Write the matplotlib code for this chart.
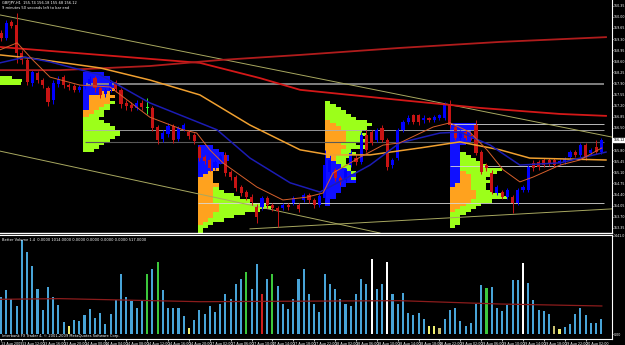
import numpy as np
import matplotlib
matplotlib.use("Agg")
import matplotlib.pyplot as plt

# GBPJPY H1 bars, 13 Aug 2009 08:00 .. 20 Aug 2009 03:00
opens = [159.49, 159.33, 159.84, 159.74, 158.86, 158.64, 157.92, 158.23, 158.01, 157.76,
         157.38, 157.88, 158.10, 157.85, 157.82, 157.70, 157.79, 157.88, 158.07, 157.76,
         157.57, 157.70, 157.95, 157.70, 157.29, 157.22, 157.13, 157.29, 157.13, 157.13,
         156.53, 156.15, 156.31, 156.56, 156.15, 156.47, 156.37, 156.28, 155.90, 155.58,
         155.49, 155.24, 155.43, 155.65, 155.11, 154.95, 154.64, 154.48, 154.32, 154.01,
         154.01, 154.29, 154.07, 153.98, 153.98, 154.07, 154.14, 154.07, 154.23, 154.39,
         154.23, 154.07, 154.29, 155.11, 155.18, 154.92, 154.86, 155.33, 155.55, 155.43,
         156.28, 156.37, 156.12, 156.50, 156.12, 155.33, 155.55, 156.44, 156.69, 156.91,
         156.91, 156.75, 156.81, 156.75, 156.81, 156.81, 157.22, 156.53, 156.18, 156.37,
         156.28, 156.59, 155.74, 155.33, 155.08, 154.45, 154.48, 154.32, 154.32, 154.14,
         154.55, 154.55, 155.40, 155.43, 155.49, 155.49, 155.49, 155.40, 155.43, 155.58,
         155.74, 155.65, 155.96, 155.71, 155.90, 155.74]
closes = [159.33, 159.81, 159.71, 158.86, 158.64, 157.95, 158.26, 158.01, 157.85, 157.32,
          157.92, 158.04, 157.85, 157.79, 157.70, 157.79, 157.88, 158.04, 157.76, 157.54,
          157.70, 157.92, 157.73, 157.25, 157.19, 157.13, 157.29, 157.16, 157.13, 156.50,
          156.12, 156.34, 156.56, 156.12, 156.50, 156.59, 156.25, 156.09, 155.55, 155.46,
          155.24, 155.43, 155.62, 155.08, 154.95, 154.61, 154.45, 154.32, 154.17, 153.69,
          154.29, 154.07, 153.98, 153.88, 154.07, 154.01, 154.29, 153.95, 154.39, 154.23,
          154.07, 154.36, 155.33, 155.49, 154.92, 154.80, 155.18, 155.71, 155.43, 156.28,
          155.81, 156.03, 156.44, 156.12, 155.27, 155.49, 156.44, 156.69, 156.81, 156.69,
          156.69, 156.81, 156.75, 156.84, 156.91, 157.22, 156.59, 156.18, 156.37, 156.18,
          156.21, 155.71, 155.11, 155.24, 154.48, 154.64, 154.32, 154.55, 154.14, 154.55,
          154.64, 155.27, 155.24, 155.27, 155.33, 155.36, 155.33, 155.46, 155.52, 155.74,
          155.65, 155.96, 155.58, 155.81, 155.74, 156.12]
highs = [159.59, 159.90, 159.90, 160.12, 158.96, 158.70, 158.32, 158.29, 158.07, 157.82,
         158.01, 158.14, 158.17, 157.92, 157.88, 157.85, 157.95, 158.14, 158.14, 157.82,
         157.76, 158.01, 158.01, 157.76, 157.38, 157.32, 157.38, 157.38, 157.44, 157.19,
         156.59, 156.44, 156.66, 156.62, 156.56, 156.66, 156.44, 156.34, 155.96, 155.65,
         155.55, 155.49, 155.68, 155.74, 155.18, 155.02, 154.70, 154.55, 154.42, 154.10,
         154.36, 154.36, 154.14, 154.04, 154.14, 154.14, 154.36, 154.14, 154.45, 154.45,
         154.29, 154.42, 155.81, 155.65, 155.24, 154.99, 155.24, 155.81, 155.65, 156.37,
         156.44, 156.44, 156.50, 156.59, 156.18, 155.55, 156.50, 156.75, 156.91, 156.94,
         156.94, 156.91, 156.84, 156.91, 156.94, 157.32, 157.38, 156.59, 156.44, 156.44,
         156.34, 156.75, 155.81, 155.40, 155.18, 154.70, 154.55, 154.61, 154.39, 154.61,
         154.70, 155.33, 155.49, 155.49, 155.55, 155.55, 155.55, 155.52, 155.58, 155.81,
         155.81, 156.03, 156.03, 155.87, 156.12, 156.18]
lows = [159.24, 159.27, 159.65, 158.55, 158.51, 157.85, 157.82, 157.92, 157.76, 157.19,
        157.25, 157.79, 157.76, 157.70, 157.63, 157.63, 157.73, 157.82, 157.63, 157.44,
        157.47, 157.63, 157.63, 157.13, 157.07, 157.03, 157.07, 157.07, 156.94, 156.40,
        155.99, 156.06, 156.21, 156.03, 156.09, 156.40, 156.15, 155.99, 155.46, 155.36,
        155.14, 155.18, 155.36, 154.99, 154.86, 154.51, 154.36, 154.23, 154.07, 153.51,
        153.92, 153.98, 153.88, 153.38, 153.92, 153.92, 154.07, 153.85, 154.17, 154.14,
        153.98, 154.01, 154.23, 155.02, 154.83, 154.70, 154.80, 155.27, 155.33, 155.36,
        155.74, 155.96, 156.06, 156.06, 155.18, 155.24, 155.49, 156.37, 156.62, 156.62,
        156.59, 156.66, 156.69, 156.69, 156.75, 156.75, 156.50, 156.12, 156.12, 156.12,
        156.12, 155.65, 155.05, 155.14, 154.42, 154.39, 154.26, 154.26, 153.82, 154.07,
        154.48, 154.48, 155.14, 155.18, 155.27, 155.30, 155.27, 155.33, 155.36, 155.52,
        155.58, 155.58, 155.49, 155.65, 155.68, 155.68]

# tick volume (Better Volume 1.4)
volumes = [544, 647, 515, 412, 1382, 1205, 1000, 662, 353, 691,
           544, 426, 176, 118, 206, 191, 279, 368, 235, 309,
           147, 294, 500, 882, 544, 485, 382, 485, 882, 956,
           1058, 647, 382, 382, 382, 265, 88, 206, 353, 294,
           412, 323, 441, 588, 515, 735, 809, 911, 662, 1029,
           588, 809, 882, 706, 441, 368, 515, 809, 956, 588,
           441, 323, 882, 735, 662, 515, 441, 412, 588, 809,
           735, 1103, 662, 735, 1058, 588, 441, 603, 309, 279,
           309, 221, 118, 118, 88, 221, 353, 382, 191, 118,
           162, 441, 720, 676, 691, 382, 338, 426, 794, 794,
           1044, 750, 500, 353, 338, 294, 118, 74, 103, 147,
           294, 382, 279, 162, 162, 221]
vol_special = {13: "y", 28: "g", 30: "g", 36: "y", 47: "g", 50: "r", 52: "g",
               71: "w", 74: "w", 82: "y", 83: "y", 84: "k", 93: "g", 100: "w",
               106: "k", 107: "y"}
vol_ma_x = [-0.2, 11.3, 38.1, 76.4, 95.6, 115.1]
vol_ma = [510, 520, 475, 490, 441, 412]

# moving averages (bar index, price)
ma_slow1_x = [-0.2, 19.0, 38.1, 49.6, 57.3, 76.4, 91.8, 107.1, 115.9]
ma_slow1 = [159.05, 158.80, 158.55, 158.07, 157.70, 157.38, 157.13, 156.94, 156.88]
ma_slow2_x = [-0.2, 11.3, 28.5, 42.0, 57.3, 76.4, 95.6, 115.9]
ma_slow2 = [158.32, 158.32, 158.45, 158.64, 158.80, 159.02, 159.21, 159.36]
ma_orange_x = [-0.2, 5.6, 19.0, 28.5, 38.1, 47.7, 57.3, 63.0, 70.7, 80.3, 87.9, 95.6, 101.3, 115.9]
ma_orange = [158.80, 158.70, 158.39, 158.01, 157.54, 156.59, 155.81, 155.65, 155.65, 155.87,
             156.06, 155.81, 155.55, 155.49]
ma_blue_x = [-0.2, 4.6, 9.4, 19.0, 28.5, 41.4, 47.7, 55.4, 61.1, 65.5, 70.7, 76.4, 84.1, 87.9,
             93.7, 99.4, 107.1, 115.9]
ma_blue = [158.55, 158.73, 158.58, 158.17, 157.29, 156.44, 155.55, 154.77, 154.48, 154.86,
           155.33, 156.03, 156.34, 156.37, 155.96, 155.33, 155.40, 155.74]
ma_fast_x = [-0.2, 3.1, 6.1, 9.4, 15.1, 20.9, 28.5, 34.9, 37.5, 40.0, 42.5, 49.0, 54.0, 58.6,
             61.7, 63.6, 68.8, 73.2, 76.4, 82.8, 86.0, 89.8, 93.1, 96.2, 99.4, 101.9, 107.1,
             110.9, 115.1]
ma_fast = [158.96, 159.18, 158.64, 158.10, 157.85, 157.79, 156.84, 156.44, 156.34, 155.81,
           155.40, 154.64, 154.23, 154.32, 154.45, 155.08, 155.58, 155.96, 156.03, 156.53,
           156.66, 156.37, 155.81, 155.18, 154.80, 154.95, 155.33, 155.49, 155.87]

# trend lines and profile levels
trend_lines = [([-0.2, 117.1], [160.06, 156.21]),
               ([-0.2, 72.6], [155.77, 153.19]),
               ([47.7, 117.1], [153.32, 153.95])]
level_lines = [(157.88, 16.0, "#8a8a8a", 1.3),
               (156.62, 86.0, "#d8d8d8", 0.6),
               (156.44, 16.0, "#b0b0b0", 0.6),
               (156.06, 16.0, "#5a5a5a", 0.8),
               (155.30, 86.0, "#d8d8d8", 0.6),
               (154.14, 37.7, "#d8d8d8", 0.6)]

# market profiles: start bar, top price, row widths (bars) per session
profiles = [
    (-0.2, 158.15, [0, 0, 0], [0, 0, 0], [2.3, 4.2, 4.0]),
    (15.8, 158.25,
     [4, 5, 5, 6, 6, 5, 3, 1, 1, 1, 1, 1, 0, 0, 0, 0, 0, 0, 0, 0, 0, 0, 0, 0, 0],
     [0, 0, 0, 0, 0, 1, 2, 5, 4, 4, 3, 2, 2, 1, 0, 0, 0, 0, 0, 0, 0, 0, 0, 0, 0],
     [0, 0, 0, 0, 0, 0, 0, 0, 0, 1, 1, 2, 2, 3, 3, 4, 5, 6, 7, 7, 6, 5, 4, 3, 2]),
    (37.7, 155.95,
     [3, 4, 5, 6, 6, 5, 4, 3, 2, 1, 0, 0, 0, 0, 0, 0, 0, 0, 0, 0, 0, 0, 0, 0, 0, 0, 0, 0],
     [0, 0, 0, 0, 0, 0, 0, 1, 1, 2, 3, 3, 4, 3, 3, 3, 3, 3, 4, 4, 4, 3, 3, 2, 1, 0, 0, 0],
     [0, 0, 0, 0, 0, 0, 0, 0, 0, 0, 0, 0, 0, 1, 2, 4, 5, 7, 9, 10, 8, 6, 4, 3, 2, 2, 1, 1]),
    (62.1, 157.35,
     [0] * 18 + [1, 2, 3, 4, 5, 6, 5, 6, 4, 3, 3, 2, 2, 1, 1],
     [0, 0, 0, 0, 0, 0, 1, 2, 3, 4, 4, 4, 4, 3, 4, 3, 3, 2, 1] + [0] * 14,
     [1, 2, 3, 4, 5, 6, 7, 7, 5, 3, 4, 3, 4, 3, 4, 2, 3, 3, 2, 2, 2, 1, 1, 0, 1,
      0, 0, 0, 0, 0, 0, 0, 0]),
    (86.0, 156.65,
     [5, 5, 4, 4, 5, 4, 3, 2, 2, 2, 2, 2, 2, 2, 2, 2, 2, 2, 2, 1] + [0] * 13,
     [0] * 15 + [1, 2, 2, 2, 3, 4, 5, 5, 5, 4, 3, 2, 1] + [0] * 5,
     [0] * 9 + [1, 2, 3, 4, 5, 8, 6, 4, 3, 4, 3, 3, 3, 5, 6, 4, 3, 3, 3, 3, 2, 2, 2, 1]),
]

price_ticks = [153.35, 153.70, 154.05, 154.40, 154.75, 155.10, 155.45, 155.80, 156.15,
               156.50, 156.85, 157.20, 157.55, 157.90, 158.25, 158.60, 158.95, 159.30,
               159.65, 160.00, 160.35]
time_ticks = list(range(0, 113, 4))
time_labels = ["13 Aug 2009", "13 Aug 12:00", "13 Aug 16:00", "13 Aug 20:00", "14 Aug 00:00",
               "14 Aug 04:00", "14 Aug 08:00", "14 Aug 12:00", "14 Aug 16:00", "14 Aug 20:00",
               "17 Aug 02:00", "17 Aug 06:00", "17 Aug 10:00", "17 Aug 14:00", "17 Aug 18:00",
               "17 Aug 22:00", "18 Aug 02:00", "18 Aug 06:00", "18 Aug 10:00", "18 Aug 14:00",
               "18 Aug 18:00", "18 Aug 22:00", "19 Aug 02:00", "19 Aug 06:00", "19 Aug 10:00",
               "19 Aug 14:00", "19 Aug 18:00", "19 Aug 22:00", "20 Aug 02:00"]

C_BULL = "#0000ff"
C_BEAR = "#c81414"
C_PBLUE = "#1010ff"
C_PORANGE = "#ffa21e"
C_PGREEN = "#9cff1a"
VOL_COLORS = {"b": "#48a4d8", "y": "#f0f070", "g": "#3cc83c", "r": "#d02020",
              "w": "#ffffff", "k": "#c8c070"}
FS = 2.6    # tiny terminal font
FS_AX = 2.3

W, H = 625, 345
fig = plt.figure(figsize=(W / 100, H / 100), dpi=100, facecolor="black")
ax = fig.add_axes([0, 1 - 233 / H, 612 / W, 233 / H], facecolor="black")
axv = fig.add_axes([0, 6 / H, 612 / W, 104 / H], facecolor="black")

n = len(closes)
x = np.arange(n)
xlim = (-0.19, 117.05)

# profiles
for start, top, blue, orange, green in profiles:
    b = np.array(blue, float)
    o = np.array(orange, float)
    g = np.array(green, float)
    lv = top - 0.1 * np.arange(len(b)) - 0.1
    kw = dict(height=0.1, align="edge", linewidth=0, zorder=1)
    ax.barh(lv, b, left=start, color=C_PBLUE, **kw)
    ax.barh(lv, o, left=start + b, color=C_PORANGE, **kw)
    ax.barh(lv, g, left=start + b + o, color=C_PGREEN, **kw)

for price, x0, col, lw in level_lines:
    ax.hlines(price, x0, 115.5, colors=col, lw=lw, zorder=2)
for xs, ys in trend_lines:
    ax.plot(xs, ys, color="#a8a860", lw=0.7, zorder=2)

# candles
op = np.array(opens)
cl = np.array(closes)
hi = np.array(highs)
lo = np.array(lows)
ccol = np.where(cl > op, C_BULL, C_BEAR).astype(object)
ccol[cl == op] = "#30ff30"
ax.vlines(x, lo, hi, colors=list(ccol), lw=0.7, zorder=3)
ax.bar(x, np.maximum(np.abs(cl - op), 0.015), bottom=np.minimum(op, cl), width=0.6,
       color=list(ccol), lw=0, zorder=3)

ax.plot(ma_slow1_x, ma_slow1, color="#d41818", lw=1.3, zorder=4)
ax.plot(ma_slow2_x, ma_slow2, color="#b01c1c", lw=1.3, zorder=4)
ax.plot(ma_orange_x, ma_orange, color="#f0a030", lw=1.1, zorder=4)
ax.plot(ma_blue_x, ma_blue, color="#1c1cb4", lw=1.1, zorder=4)
ax.plot(ma_fast_x, ma_fast, color="#d8602c", lw=0.7, zorder=4)

ax.set_xlim(*xlim)
ax.set_ylim(153.19, 160.53)
ax.set_xticks([])
ax.yaxis.tick_right()
shown = [t for t in price_ticks if abs(t - closes[-1]) > 0.1]
ax.set_yticks(shown)
ax.set_yticklabels([f"{t:.2f}" for t in shown])
ax.tick_params(axis="y", colors="white", labelsize=FS_AX, length=1, width=0.5, pad=0.4)
for side in ["left", "top"]:
    ax.spines[side].set_visible(False)
ax.spines["right"].set_color("white")
ax.spines["right"].set_linewidth(0.8)
ax.spines["bottom"].set_color("white")
ax.spines["bottom"].set_linewidth(1.0)
ax.text(1.002, closes[-1], f"{closes[-1]:.2f}", transform=ax.get_yaxis_transform(),
        fontsize=FS_AX, color="black", ha="left", va="center", clip_on=False,
        bbox=dict(boxstyle="square,pad=0.1", fc="white", ec="white"))
ax.text(0.004, 0.985, f"GBPJPY,H1  {opens[-1]:.2f} {highs[-1]:.2f} {lows[-1]:.2f} {closes[-1]:.2f}",
        transform=ax.transAxes, fontsize=FS, color="white", va="center")
ax.text(0.004, 0.965, "9 minutes 50 seconds left to bar end", transform=ax.transAxes,
        fontsize=FS, color="white", va="center")

# volume panel
vcols = [VOL_COLORS[vol_special.get(i, "b")] for i in range(n)]
axv.bar(x, volumes, width=0.4, color=vcols, lw=0, zorder=2)
axv.plot(vol_ma_x, vol_ma, color="#8c1c1c", lw=0.9, zorder=3)
axv.set_xlim(*xlim)
axv.set_ylim(-73.5, 1455.7)
axv.yaxis.tick_right()
axv.set_yticks([0, 1441])
axv.set_yticklabels(["0.00", "1441.0"])
axv.tick_params(axis="y", colors="white", labelsize=FS_AX, length=1, width=0.5, pad=0.4)
axv.set_xticks(time_ticks)
axv.set_xticklabels(time_labels)
axv.tick_params(axis="x", colors="white", labelsize=2.4, length=1.5, width=0.5, pad=0.4)
for lab in axv.get_xticklabels():
    lab.set_ha("left")
axv.spines["left"].set_visible(False)
for side in ["right", "top", "bottom"]:
    axv.spines[side].set_color("white")
    axv.spines[side].set_linewidth(0.8)
axv.text(0.004, 0.95, "Better Volume 1.4  0.0000 1014.0000 0.0000 0.0000 0.0000 0.0000 517.0000",
         transform=axv.transAxes, fontsize=FS, color="white", va="center")
axv.text(0.004, 0.025, "Interbank FX Trader 4, \u00a9 2001-2009 MetaQuotes Software Corp.",
         transform=axv.transAxes, fontsize=FS, color="white", va="center")

fig.savefig("out.png", dpi=100, facecolor="black")
